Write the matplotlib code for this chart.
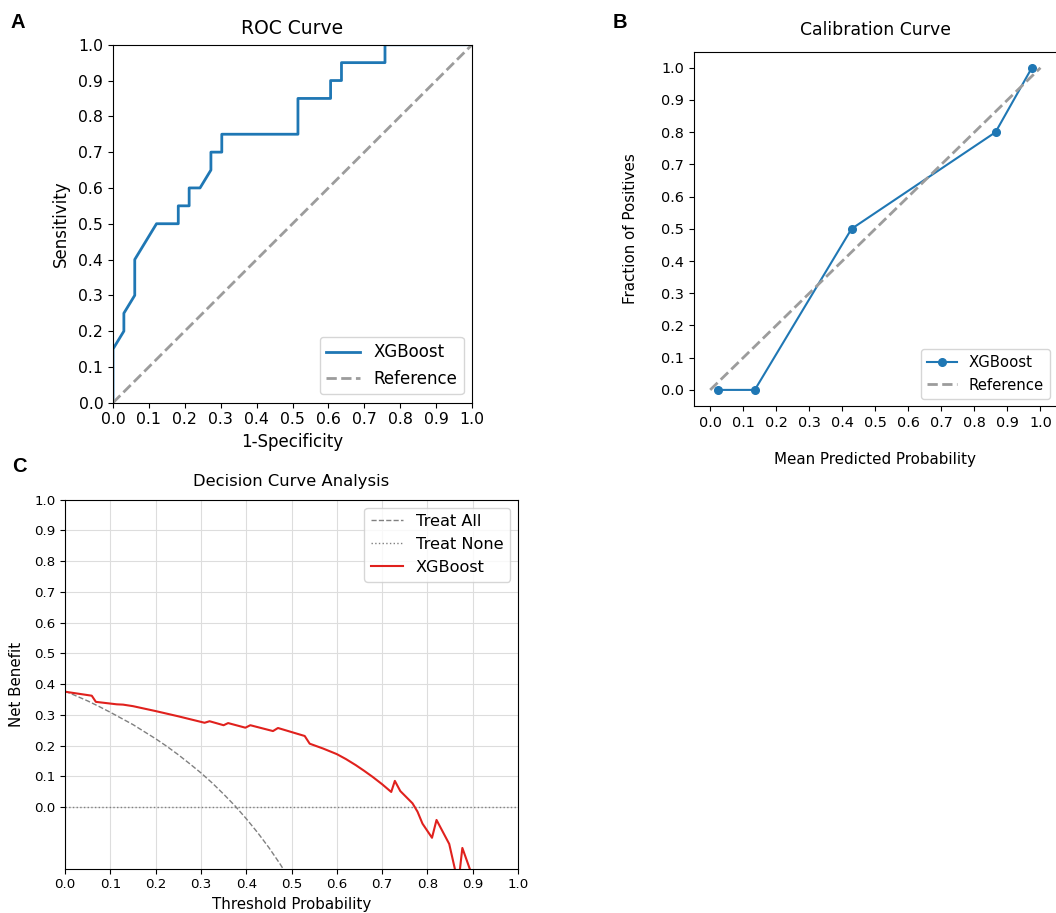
import matplotlib
matplotlib.use('Agg')
import matplotlib.pyplot as plt
import numpy as np

# ---------------- data ----------------
# ROC curve (XGBoost)
roc_fpr = [0, 0, 1/33, 1/33, 2/33, 2/33, 4/33, 6/33, 6/33, 7/33, 7/33, 8/33, 9/33, 9/33,
           10/33, 10/33, 17/33, 17/33, 20/33, 20/33, 21/33, 21/33, 25/33, 25/33, 1.0]
roc_tpr = [0, 0.15, 0.20, 0.25, 0.30, 0.40, 0.50, 0.50, 0.55, 0.55, 0.60, 0.60, 0.65, 0.70,
           0.70, 0.75, 0.75, 0.85, 0.85, 0.90, 0.90, 0.95, 0.95, 1.00, 1.00]

# Calibration curve
cal_pred = [0.024, 0.135, 0.428, 0.864, 0.974]
cal_frac = [0.0, 0.0, 0.5, 0.8, 1.0]

# Decision curve analysis
dca_thr_all = [0.0, 0.025, 0.05, 0.075, 0.1, 0.125, 0.15, 0.175, 0.2, 0.225, 0.25, 0.275,
               0.3, 0.325, 0.35, 0.375, 0.4, 0.425, 0.45, 0.475, 0.5]
dca_nb_all = [0.377, 0.361, 0.345, 0.327, 0.308, 0.288, 0.268, 0.245, 0.222, 0.197, 0.170,
              0.141, 0.111, 0.078, 0.042, 0.004, -0.038, -0.083, -0.132, -0.186, -0.245]
dca_thr_none = [0.0, 1.0]
dca_nb_none = [0.0, 0.0]
dca_thr_model = [0.0, 0.059, 0.068, 0.114, 0.128, 0.15, 0.2, 0.25, 0.308, 0.319, 0.350, 0.360,
                 0.398, 0.409, 0.459, 0.470, 0.529, 0.540, 0.570, 0.600, 0.620, 0.642, 0.660,
                 0.679, 0.700, 0.720, 0.728, 0.740, 0.767, 0.778, 0.789, 0.810, 0.820, 0.848,
                 0.868, 0.877, 0.91]
dca_nb_model = [0.375, 0.362, 0.342, 0.334, 0.333, 0.328, 0.312, 0.295, 0.274, 0.279, 0.266,
                0.273, 0.258, 0.266, 0.247, 0.257, 0.231, 0.206, 0.190, 0.172, 0.156, 0.136,
                0.118, 0.098, 0.074, 0.049, 0.085, 0.052, 0.012, -0.015, -0.054, -0.100,
                -0.042, -0.120, -0.25, -0.133, -0.27]

ticks01 = [0.0, 0.1, 0.2, 0.3, 0.4, 0.5, 0.6, 0.7, 0.8, 0.9, 1.0]

BLUE = '#1f77b4'
GREY = '#9c9c9c'
RED = '#e0211d'

fig = plt.figure(figsize=(10.56, 9.13), dpi=100)

# ---------------- Panel A: ROC ----------------
axA = fig.add_axes([0.1070, 0.5589, 0.3400, 0.3921])
axA.plot(roc_fpr, roc_tpr, color=BLUE, lw=2, label='XGBoost')
axA.plot([0, 1], [0, 1], color=GREY, lw=2, ls='--', label='Reference')
axA.set_xlim(0, 1)
axA.set_ylim(0, 1)
axA.set_xticks(ticks01)
axA.set_yticks(ticks01)
axA.tick_params(labelsize=11.3)
axA.set_title('ROC Curve', fontsize=13.5, pad=8)
axA.set_xlabel('1-Specificity', fontsize=12)
axA.set_ylabel('Sensitivity', fontsize=12)
axA.xaxis.set_label_coords(0.5, -0.085)
axA.yaxis.set_label_coords(-0.120, 0.5)
axA.legend(loc='lower right', fontsize=12)

# ---------------- Panel B: Calibration ----------------
axB = fig.add_axes([0.6569, 0.5553, 0.3440, 0.3881])
axB.plot(cal_pred, cal_frac, color=BLUE, lw=1.5, marker='o', ms=5.5, label='XGBoost')
axB.plot([0, 1], [0, 1], color=GREY, lw=2, ls='--', label='Reference')
axB.set_xlim(-0.05, 1.05)
axB.set_ylim(-0.05, 1.05)
axB.set_xticks(ticks01)
axB.set_yticks(ticks01)
axB.tick_params(labelsize=10.4)
axB.set_title('Calibration Curve', fontsize=12.4, pad=12)
axB.set_xlabel('Mean Predicted Probability', fontsize=10.9)
axB.set_ylabel('Fraction of Positives', fontsize=10.9)
axB.xaxis.set_label_coords(0.5, -0.129)
axB.yaxis.set_label_coords(-0.153, 0.5)
axB.legend(loc='lower right', fontsize=10.7)

# ---------------- Panel C: DCA ----------------
axC = fig.add_axes([0.0616, 0.0487, 0.4290, 0.4042])
axC.plot(dca_thr_all, dca_nb_all, color='gray', lw=1, ls='--', label='Treat All')
axC.plot(dca_thr_none, dca_nb_none, color='gray', lw=1, ls=':', label='Treat None')
axC.plot(dca_thr_model, dca_nb_model, color=RED, lw=1.5, label='XGBoost')
axC.set_xlim(0, 1)
axC.set_ylim(-0.2, 1.0)
axC.set_xticks(ticks01)
axC.set_yticks(ticks01)
axC.grid(True, color='#dddddd', lw=0.8)
axC.set_axisbelow(True)
axC.tick_params(labelsize=9.6)
axC.set_title('Decision Curve Analysis', fontsize=11.8, pad=10)
axC.set_xlabel('Threshold Probability', fontsize=10.8)
axC.set_ylabel('Net Benefit', fontsize=10.8)
axC.xaxis.set_label_coords(0.5, -0.076)
axC.yaxis.set_label_coords(-0.0905, 0.5)
axC.legend(loc='upper right', fontsize=11.6)

# ---------------- panel letters ----------------
for txt, x, y in [('A', 18, 23), ('B', 620, 22), ('C', 19, 466)]:
    fig.text(x / 1056, 1 - y / 913, txt, fontsize=14.5, fontweight='bold',
             family=['Liberation Sans', 'DejaVu Sans'], ha='center', va='center')

fig.savefig('out.png', dpi=100)
